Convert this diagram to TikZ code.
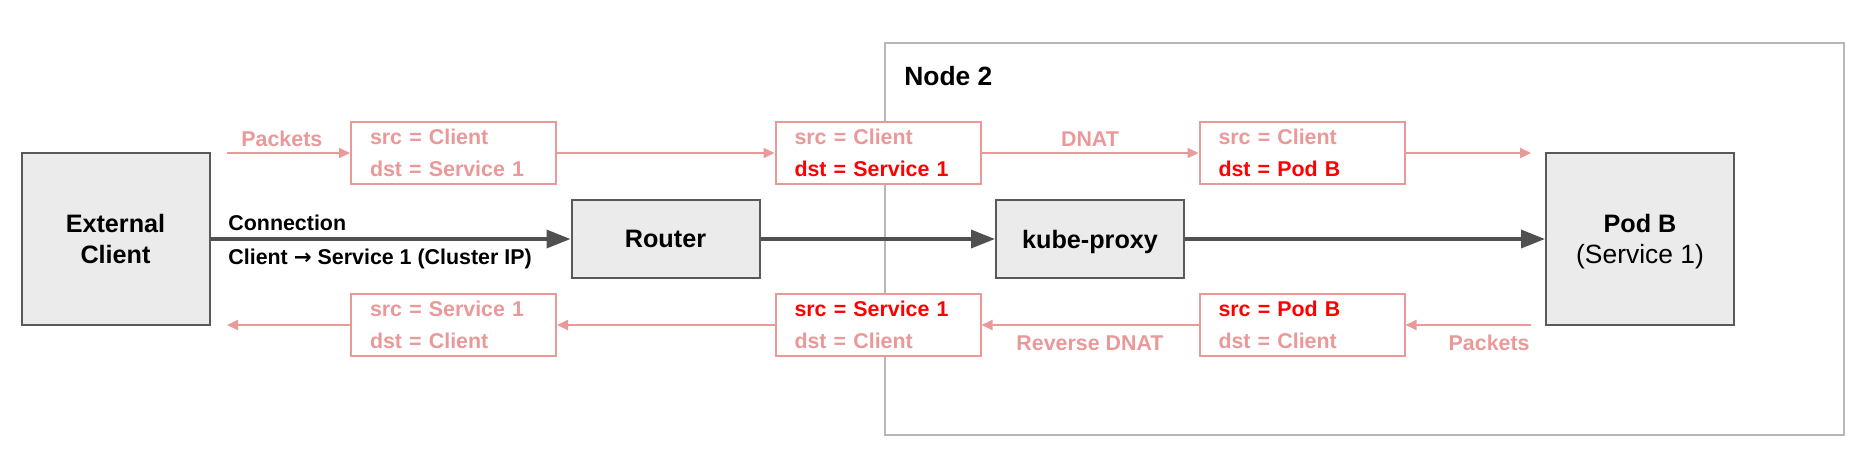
\documentclass[tikz,border=0pt]{standalone}
\usepackage{fontspec}
\setmainfont{Liberation Sans}
\newfontfamily\arrowfont{DejaVu Sans}
\usepackage{tikz}
\usetikzlibrary{calc,shapes,arrows.meta}
\definecolor{pktpink}{HTML}{EA9999}
\definecolor{hotred}{HTML}{FF0000}
\definecolor{boxgrey}{HTML}{EBEBEB}
\definecolor{boxedge}{HTML}{595959}
\definecolor{arrowgrey}{HTML}{505050}
\definecolor{nodeedge}{HTML}{B7B7B7}
\tikzstyle{greybox}=[rectangle,draw=boxedge,fill=boxgrey,line width=1pt,
                     font=\fontsize{12.6}{15.6}\selectfont\bfseries,align=center,
                     minimum width=94pt,text depth=0pt,inner sep=0pt]
\tikzstyle{pktbox}=[rectangle,draw=pktpink,fill=white,line width=1pt,text=pktpink,
                    font=\fontsize{10.7}{15.8}\selectfont\bfseries,align=left,
                    text width=83.5pt,inner xsep=9.5pt,inner ysep=0pt,minimum height=31pt]
\tikzstyle{pkttext}=[text=pktpink,font=\fontsize{10.7}{12}\selectfont\bfseries,inner sep=0pt]
\tikzstyle{pktline}=[draw=pktpink,line width=1pt,-{Triangle[length=5.5pt,width=5pt]}]
\tikzstyle{connline}=[draw=arrowgrey,line width=1.75pt,-{Triangle[length=12pt,width=9pt]}]
\newcommand\pktlabel[2]{#1\\#2}
\newcommand\changed[1]{\textcolor{hotred}{#1}}
\newcommand\toprow{153}
\newcommand\midrow{239}
\newcommand\botrow{325}

\begin{document}
\begin{tikzpicture}[x=0.5pt,y=-0.5pt]
    \useasboundingbox (0,0) rectangle (1875,468);
    % node 2 frame
    \draw[draw=nodeedge,line width=1pt] (885,43) rectangle (1844,435);
    \node [anchor=base west,inner sep=0pt,font=\fontsize{13.2}{14}\selectfont\bfseries] (Node 2) at (904,85) {Node 2};

    % main hosts
    \node [greybox,minimum height=86pt] (External Client) at ($(115.5,\midrow)$) {External\\Client};
    \node [greybox,minimum height=39pt] (Router) at ($(665.5,\midrow)$) {Router};
    \node [greybox,minimum height=39pt] (kube proxy) at ($(1090,\midrow)$) {kube-proxy};
    \node [greybox,minimum height=86pt] (Pod B) at ($(1640,\midrow)$) {Pod B\\{\mdseries\fontsize{13.2}{15.6}\selectfont (Service 1)}};

    \draw[connline] (External Client) -- (Router);
    \draw[connline] (Router) -- (kube proxy);
    \draw[connline] (kube proxy) -- (Pod B);
    \node [anchor=base west,inner sep=0pt,font=\fontsize{10.7}{12}\selectfont\bfseries] (Connection) at (228,230.7) {Connection};
    \node [anchor=base west,inner sep=0pt,font=\fontsize{10.7}{12}\selectfont\bfseries] (Connection Path) at (228,264) {Client {\arrowfont →} Service 1 (Cluster IP)};

    % packets going in
    \node [pktbox] (Out Router) at ($(453.5,\toprow)$) {
        \pktlabel{src = Client}{dst = Service 1}
    };
    \node [pktbox] (Out Node) at ($(878,\toprow)$) {
        \pktlabel{src = Client}{\changed{dst = Service 1}}
    };
    \node [pktbox] (Out Pod) at ($(1302,\toprow)$) {
        \pktlabel{src = Client}{\changed{dst = Pod B}}
    };
    \coordinate (Packets In) at (227,\toprow);
    \coordinate (Packets Out) at (1531,\toprow);
    \draw[pktline] (Packets In) -- (Out Router);
    \draw[pktline] (Out Router) -- (Out Node);
    \draw[pktline] (Out Node) -- (Out Pod);
    \draw[pktline] (Out Pod) -- (Packets Out);
    \node [pkttext,anchor=base west] (Packets Top) at (241,146) {Packets};
    \node [pkttext,anchor=base] (DNAT) at (1090,146) {DNAT};

    % packets coming back
    \node [pktbox] (Back Router) at ($(453.5,\botrow)$) {
        \pktlabel{src = Service 1}{dst = Client}
    };
    \node [pktbox] (Back Node) at ($(878,\botrow)$) {
        \pktlabel{\changed{src = Service 1}}{dst = Client}
    };
    \node [pktbox] (Back Pod) at ($(1302,\botrow)$) {
        \pktlabel{\changed{src = Pod B}}{dst = Client}
    };
    \coordinate (Reply In) at (1531,\botrow);
    \coordinate (Reply Out) at (227,\botrow);
    \draw[pktline] (Reply In) -- (Back Pod);
    \draw[pktline] (Back Pod) -- (Back Node);
    \draw[pktline] (Back Node) -- (Back Router);
    \draw[pktline] (Back Router) -- (Reply Out);
    \node [pkttext,anchor=base east] (Packets Bottom) at (1530,350) {Packets};
    \node [pkttext,anchor=base] (Reverse DNAT) at (1090,350) {Reverse DNAT};
\end{tikzpicture}
\end{document}
